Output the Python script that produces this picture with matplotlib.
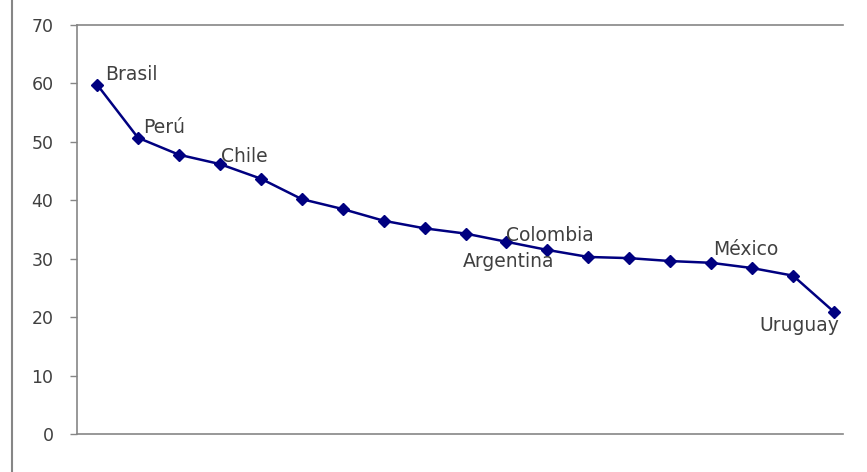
import matplotlib
matplotlib.use('Agg')
import matplotlib.pyplot as plt
from matplotlib.lines import Line2D

plt.rcParams['font.family'] = ['DejaVu Sans']

# 各国数值（按降序排列）
values = [59.8, 50.7, 47.8, 46.2, 43.7, 40.2, 38.5, 36.5, 35.2, 34.3,
          32.9, 31.5, 30.3, 30.1, 29.6, 29.3, 28.4, 27.1, 20.9]
# 标注：点序号 -> 国家名
label_idx = [0, 1, 3, 11, 10, 16, 18]
label_txt = ['Brasil', 'Perú', 'Chile', 'Colombia', 'Argentina', 'México', 'Uruguay']
# 文字相对数据点的偏移（像素，左下基线）
label_off = [(8, 5), (5, 5), (1, 2), (-41, 9), (-44, -25), (-39, 13), (-75, -19)]

fig = plt.figure(figsize=(8.67, 4.72), dpi=100)
ax = fig.add_axes([77 / 867, 38 / 472, 766 / 867, 409 / 472])

x = list(range(len(values)))
ax.plot(x, values, color='#000080', linewidth=1.8, marker='D', markersize=6.5)

for i, t, off in zip(label_idx, label_txt, label_off):
    ax.annotate(t, (x[i], values[i]), xytext=off, textcoords='offset pixels',
                fontsize=13.5, color='#404040', ha='left', va='baseline')

ax.set_xlim(-0.49, 18.22)
ax.set_ylim(0, 70)
ax.set_yticks(range(0, 71, 10))
ax.set_xticks([])
ax.tick_params(axis='y', direction='out', length=5, width=1, color='#868686',
               labelsize=12.5, labelcolor='#404040', pad=12)
for s in ['left', 'bottom', 'top']:
    ax.spines[s].set_color('#868686')
    ax.spines[s].set_linewidth(1.2)
ax.spines['right'].set_visible(False)

# 外框左边线
fig.add_artist(Line2D([12 / 867, 12 / 867], [0, 1], color='#868686', linewidth=1.5))

plt.savefig('out.png', dpi=100)
plt.close()
